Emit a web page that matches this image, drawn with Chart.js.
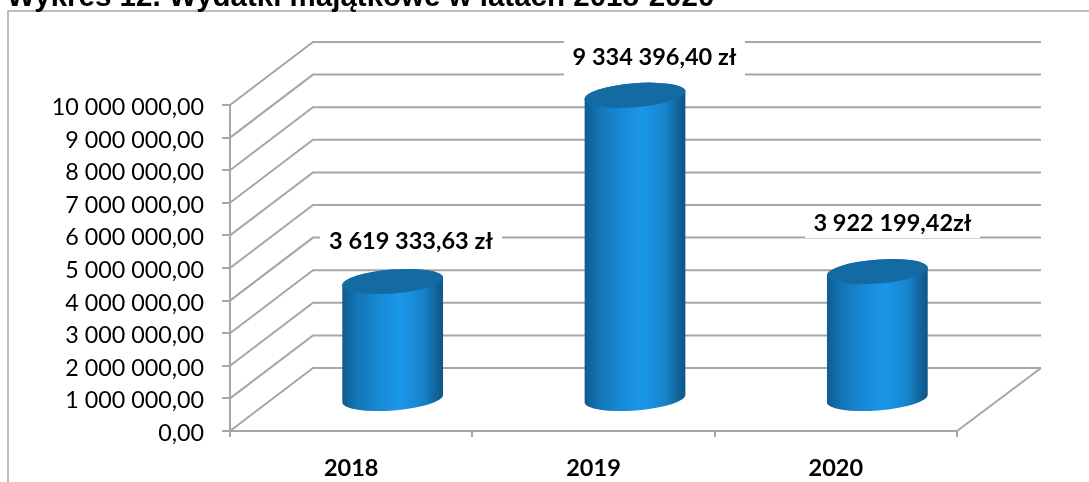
<!DOCTYPE html>
<html lang="pl">
<head>
<meta charset="utf-8">
<title>Wykres 12</title>
<script src="https://cdn.jsdelivr.net/npm/chart.js@4"></script>
<style>
  html, body { margin: 0; background: #fff; overflow: hidden; }
  #wrap { position: relative; width: 1089px; height: 482px; overflow: hidden; }
  #title { position: absolute; left: 7px; top: -21px; font: bold 29.5px "Liberation Sans", Arial, sans-serif; color: #000; white-space: nowrap; }
  canvas { position: absolute; left: 0; top: 0; }
</style>
</head>
<body>
<div id="wrap">
  <canvas id="chart" width="1089" height="482"></canvas>
  <div id="title">Wykres 12. Wydatki majątkowe w latach 2018-2020</div>
</div>
<script>
const years = ['2018', '2019', '2020'];
const spending = [3619333.63, 9334396.40, 3922199.42];
const valueLabels = ['3 619 333,63 zł', '9 334 396,40 zł', '3 922 199,42zł'];
const tickLabels = ['0,00', '1 000 000,00', '2 000 000,00', '3 000 000,00', '4 000 000,00', '5 000 000,00',
  '6 000 000,00', '7 000 000,00', '8 000 000,00', '9 000 000,00', '10 000 000,00'];

const GRID = '#a6a6a6';
const FONT = 'Lato, Carlito, sans-serif';
// depth of the fake 3D box, in pixels
const DEPTH_X = 83;
const DEPTH_Y = 63;

const box3d = {
  id: 'box3d',
  beforeDraw(chart) {
    const { ctx, scales: { x, y } } = chart;
    ctx.save();
    // outer chart frame, only top and left are visible on the page
    ctx.strokeStyle = '#a6a6a6';
    ctx.lineWidth = 1.5;
    ctx.beginPath();
    ctx.moveTo(8, 482);
    ctx.lineTo(8, 11);
    ctx.lineTo(1089, 11);
    ctx.stroke();

    // gridlines run along the side wall and then the back wall
    ctx.strokeStyle = GRID;
    ctx.lineWidth = 2;
    y.ticks.forEach((t, i) => {
      const py = y.getPixelForTick(i);
      ctx.beginPath();
      ctx.moveTo(x.left, py);
      ctx.lineTo(x.left + DEPTH_X, py - DEPTH_Y);
      ctx.lineTo(x.right + DEPTH_X + 1, py - DEPTH_Y);
      ctx.stroke();
    });
    // right edge of the floor
    ctx.beginPath();
    ctx.moveTo(x.right, y.bottom);
    ctx.lineTo(x.right + DEPTH_X + 1, y.bottom - DEPTH_Y);
    ctx.stroke();
    ctx.restore();
  },
  afterDatasetsDraw(chart) {
    const { ctx } = chart;
    const bars = chart.getDatasetMeta(0).data;
    ctx.save();
    bars.forEach((bar, i) => {
      // the cylinder stands halfway into the box
      const cx = bar.x + DEPTH_X / 2;
      const topY = bar.y - DEPTH_Y / 2;
      const baseY = bar.base - DEPTH_Y / 2;
      const a = bar.width / 2;
      const b = 12;
      const rot = -4.5 * Math.PI / 180;

      const g = ctx.createLinearGradient(cx - a, 0, cx + a, 0);
      g.addColorStop(0, '#0e5c8e');
      g.addColorStop(0.14, '#1474b4');
      g.addColorStop(0.38, '#198bd8');
      g.addColorStop(0.58, '#1b97e8');
      g.addColorStop(0.8, '#1684cb');
      g.addColorStop(0.95, '#115f94');
      g.addColorStop(1, '#0f5585');
      ctx.fillStyle = g;
      ctx.beginPath();
      ctx.ellipse(cx, baseY, a, b, rot, 0, Math.PI);
      ctx.ellipse(cx, topY, a, b, rot, Math.PI, 2 * Math.PI);
      ctx.closePath();
      ctx.fill();

      ctx.fillStyle = '#146ba4';
      ctx.beginPath();
      ctx.ellipse(cx, topY, a, b, rot, 0, 2 * Math.PI);
      ctx.fill();
    });

    // value labels on white boxes
    const labelBoxes = [[320, 223, 182, 34], [564, 36, 181, 40], [805, 206, 175, 32]];
    ctx.font = 'bold 23.5px ' + FONT;
    ctx.textAlign = 'center';
    ctx.textBaseline = 'middle';
    valueLabels.forEach((txt, i) => {
      const [bx, by, bw, bh] = labelBoxes[i];
      ctx.fillStyle = '#fff';
      ctx.fillRect(bx, by, bw, bh);
      ctx.fillStyle = '#000';
      ctx.fillText(txt, bx + bw / 2, by + bh / 2 + 1);
    });
    ctx.restore();
  }
};

new Chart(document.getElementById('chart'), {
  type: 'bar',
  data: {
    labels: years,
    datasets: [{ data: spending, backgroundColor: 'rgba(0,0,0,0)', barPercentage: 0.417, categoryPercentage: 1 }],
  },
  options: {
    responsive: false,
    animation: false,
    layout: { padding: { top: 105, right: 132, bottom: 0, left: 0 } },
    plugins: { legend: { display: false }, tooltip: { enabled: false } },
    scales: {
      x: {
        afterFit: s => { s.height = 51; },
        grid: { offset: true, drawOnChartArea: false, color: GRID, lineWidth: 2, tickLength: 6 },
        border: { color: GRID, width: 2 },
        ticks: { color: '#000', font: { family: FONT, size: 23.5, weight: 'bold' }, padding: 17, maxRotation: 0 },
      },
      y: {
        min: 0,
        max: 10000000,
        afterFit: s => { s.width = 230; },
        grid: { drawOnChartArea: false, color: GRID, lineWidth: 2, tickLength: 8 },
        border: { color: GRID, width: 2 },
        ticks: {
          stepSize: 1000000,
          color: '#000',
          font: { family: FONT, size: 23.3, lineHeight: '5px' },
          padding: 18,
          // empty first line nudges the text down a little, like in the original
          callback: (v, i) => ['', tickLabels[i]],
        },
      },
    },
  },
  plugins: [box3d],
});
</script>
</body>
</html>
